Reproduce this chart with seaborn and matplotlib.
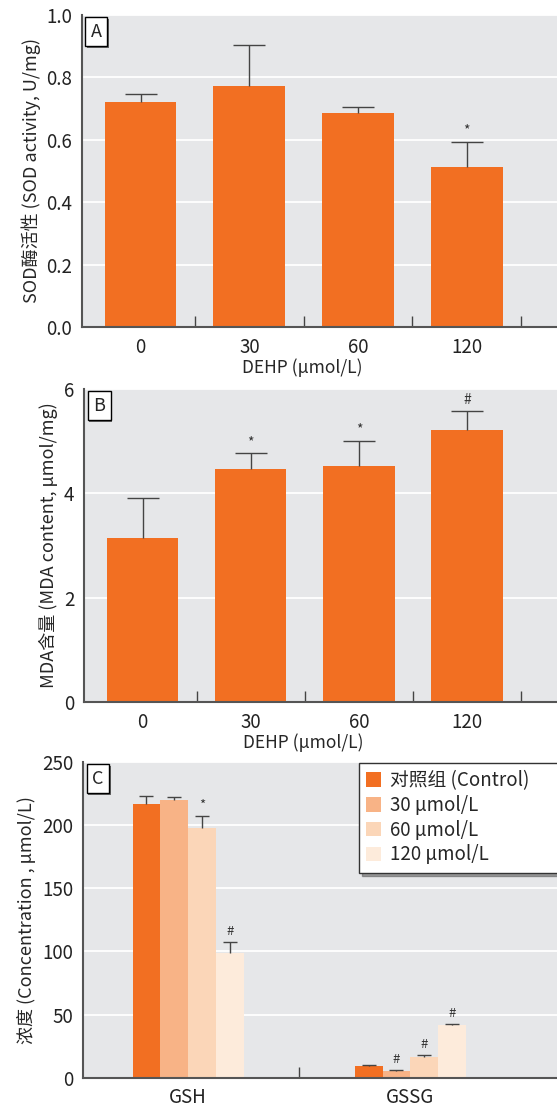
import numpy as np
import pandas as pd
import matplotlib.pyplot as plt
import matplotlib.patheffects as pe
import seaborn as sns
from matplotlib.patches import Patch

# données
doses = ['0', '30', '60', '120']
sod_mean = [0.720, 0.773, 0.687, 0.514]
sod_err = [0.026, 0.131, 0.018, 0.080]
sod_marks = ['', '', '', '*']

mda_mean = [3.14, 4.47, 4.52, 5.21]
mda_err = [0.78, 0.30, 0.49, 0.36]
mda_marks = ['', '*', '*', '#']

metabolites = ['GSH', 'GSSG']
conc_labels = ['对照组 (Control)', '30 μmol/L', '60 μmol/L', '120 μmol/L']
gsh_mean = [216.6, 219.8, 197.6, 98.7]
gsh_err = [6.6, 2.6, 9.5, 8.4]
gsh_marks = ['', '', '*', '#']
gssg_mean = [9.2, 5.5, 16.4, 41.7]
gssg_err = [0.8, 0.3, 1.3, 0.5]
gssg_marks = ['', '#', '#', '#']

orange = '#f26f22'
conc_colors = ['#f26f22', '#f8b386', '#fbd6b8', '#fdebdb']
bg = '#e6e7e9'
dark = '#444444'

sns.set_style('darkgrid', {'axes.facecolor': bg, 'grid.color': 'white'})
plt.rcParams['font.family'] = ['Noto Sans CJK SC', 'DejaVu Sans']


def upper_errorbar(ax, xs, means, errs, capsize):
    # barre d'erreur seulement vers le haut, sans cap en bas
    _, caps, _ = ax.errorbar(xs, means, yerr=[np.zeros(len(errs)), errs], fmt='none',
                             ecolor=dark, elinewidth=1, capsize=capsize, capthick=1)
    caps[0].set_visible(False)


def style_axes(ax, letter):
    ax.set_axisbelow(True)
    ax.grid(axis='y', color='white', lw=1.3)
    ax.grid(axis='x', visible=False)
    for s in ['top', 'right']:
        ax.spines[s].set_visible(False)
    for s in ['left', 'bottom']:
        ax.spines[s].set_visible(True)
        ax.spines[s].set_color('#555555')
        ax.spines[s].set_linewidth(1.5)
    ax.tick_params(axis='both', which='major', length=0, labelsize=13.5, pad=7, labelcolor='#222222')
    ax.tick_params(axis='x', which='minor', bottom=True, direction='in', length=8, width=1, color=dark)
    t = ax.text(0.019, 0.975, letter, transform=ax.transAxes, ha='left', va='top', fontsize=13,
                bbox=dict(boxstyle='square,pad=0.3', fc='white', ec='black', lw=1))
    t.get_bbox_patch().set_path_effects([pe.SimplePatchShadow(offset=(1.2, -1.2), shadow_rgbFace='#666666', alpha=1),
                                         pe.Normal()])


def dose_panel(ax, means, errs, marks, ylim, yticks, fmt, ylabel, letter):
    df = pd.DataFrame({'dose': doses, 'value': means})
    sns.barplot(data=df, x='dose', y='value', color=orange, saturation=1, width=0.66,
                errorbar=None, linewidth=0, ax=ax)
    x = np.arange(len(doses))
    upper_errorbar(ax, x, means, errs, 11.5)
    for i, (m, e, s) in enumerate(zip(means, errs, marks)):
        if s:
            ax.annotate(s, (i, m + e), xytext=(0, 3), textcoords='offset points',
                        ha='center', va='bottom', fontsize=10, color='#333333')
    ax.set_xlim(-0.54, 3.83)
    ax.set_ylim(*ylim)
    ax.set_yticks(yticks)
    ax.set_yticklabels([fmt.format(v) for v in yticks])
    ax.set_xticks(x + 0.5, minor=True)
    ax.set_xlabel('DEHP (μmol/L)', fontsize=12.5)
    ax.xaxis.set_label_coords(0.463, -0.1)
    ax.set_ylabel(ylabel, fontsize=13)
    style_axes(ax, letter)


fig = plt.figure(figsize=(5.57, 11.08), dpi=100)
ax_a = fig.add_axes([0.147, 0.7049, 0.853, 0.2816])
ax_b = fig.add_axes([0.151, 0.3664, 0.849, 0.2825])
ax_c = fig.add_axes([0.149, 0.0273, 0.851, 0.2850])

dose_panel(ax_a, sod_mean, sod_err, sod_marks, (0, 1.0), [0, 0.2, 0.4, 0.6, 0.8, 1.0], '{:.1f}',
           'SOD酶活性 (SOD activity, U/mg)', 'A')
dose_panel(ax_b, mda_mean, mda_err, mda_marks, (0, 6), [0, 2, 4, 6], '{:d}',
           'MDA含量 (MDA content, μmol/mg)', 'B')

# Panel C
df_c = pd.DataFrame({'metabolite': np.repeat(metabolites, len(conc_labels)),
                     'group': conc_labels * len(metabolites),
                     'value': gsh_mean + gssg_mean})
sns.barplot(data=df_c, x='metabolite', y='value', hue='group', hue_order=conc_labels,
            palette=conc_colors, saturation=1, width=0.5, gap=0, errorbar=None,
            linewidth=0, ax=ax_c)
if ax_c.get_legend() is not None:
    ax_c.get_legend().remove()

bar_conts = list(ax_c.containers)
for k, cont in enumerate(bar_conts):
    means = [gsh_mean[k], gssg_mean[k]]
    errs = [gsh_err[k], gssg_err[k]]
    marks = [gsh_marks[k], gssg_marks[k]]
    xs = [p.get_x() + p.get_width() / 2 for p in cont.patches]
    upper_errorbar(ax_c, xs, means, errs, 5)
    for xx, m, e, s in zip(xs, means, errs, marks):
        if s:
            ax_c.annotate(s, (xx, m + e), xytext=(0, 3), textcoords='offset points',
                          ha='center', va='bottom', fontsize=9.5, color='#333333')

ax_c.set_xlim(-0.473, 1.66)
ax_c.set_ylim(0, 250)
ax_c.set_yticks([0, 50, 100, 150, 200, 250])
ax_c.set_xticks([0.5], minor=True)
ax_c.set_xlabel('')
ax_c.set_ylabel('浓度 (Concentration , μmol/L)', fontsize=13)
style_axes(ax_c, 'C')

# légende élargie : elle dépasse le bord droit comme dans l'original
handles = [Patch(facecolor=c, edgecolor='none') for c in conc_colors]
ax_c.legend(handles, conc_labels, loc='upper left', bbox_to_anchor=(0.582, 0.0, 0.45, 0.998),
            mode='expand', borderaxespad=0, frameon=True, fancybox=False, shadow=True,
            edgecolor='#333333', facecolor='white', framealpha=1, fontsize=13.5,
            handlelength=0.8, handleheight=0.8, handletextpad=0.45, labelspacing=0.2,
            borderpad=0.4)

plt.savefig('out.png', dpi=100)
